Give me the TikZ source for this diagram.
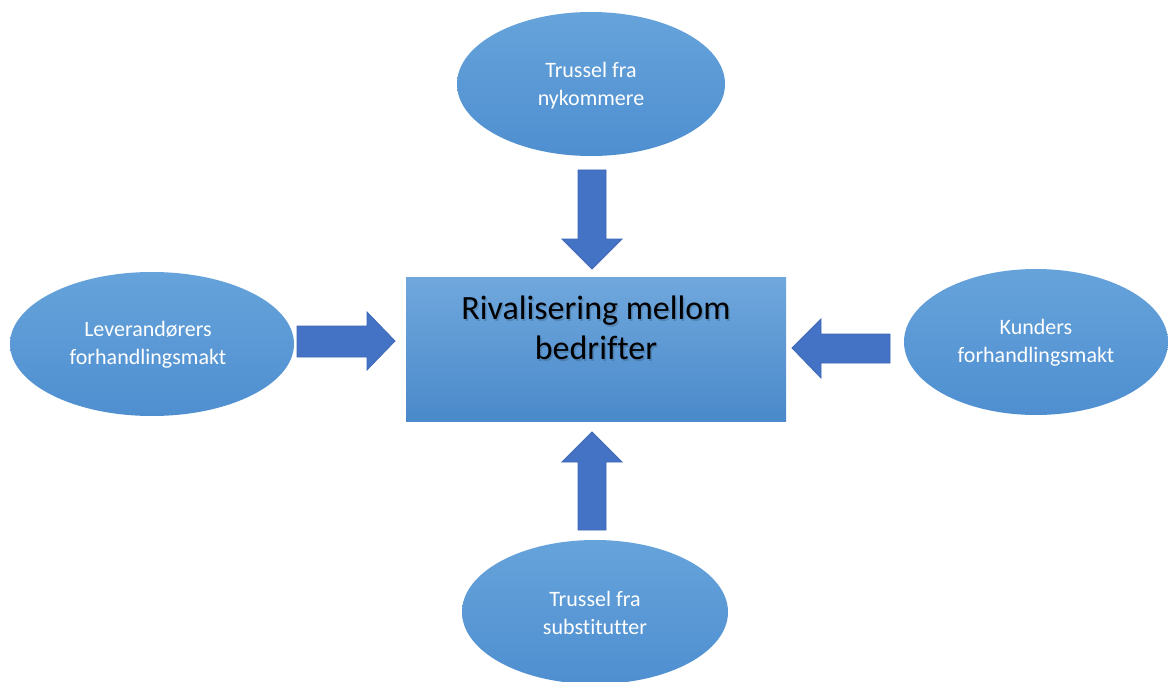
\documentclass[tikz,border=0pt]{standalone}
\usepackage{fontspec}
\setmainfont[Ligatures=NoCommon]{Carlito}
\usetikzlibrary{shapes.geometric}
\definecolor{ellTop}{HTML}{66A3DB}
\definecolor{ellBot}{HTML}{4F8FD0}
\definecolor{recTop}{HTML}{70A8DD}
\definecolor{recBot}{HTML}{4A89CA}
\definecolor{arrFill}{HTML}{4472C4}
\definecolor{arrLine}{HTML}{3D68B6}
\tikzset{
  force/.style={top color=ellTop, bottom color=ellBot},
  forcetext/.style={text=white, font=\fontsize{22}{28}\selectfont, align=center, inner sep=0pt},
  core/.style={top color=recTop, bottom color=recBot},
  coretext/.style={font=\fontsize{34}{40}\selectfont, align=center, text=black, inner sep=0pt},
  blockarrow/.style={fill=arrFill, draw=arrLine, line width=0.8pt, line join=miter}
}
\begin{document}
\begin{tikzpicture}[x=1pt,y=-1pt]
\useasboundingbox (0,0) rectangle (1168,682);
\fill[white] (0,0) rectangle (1168,682);
\begin{scope}
\clip (0,0) rectangle (1168,682);
% central rectangle
\path[core] (406,277) rectangle (786,421);
\node[coretext, text=black, opacity=0.15] at (597.5,329.5) {Rivalisering mellom\\bedrifter};
\node[coretext] (core) at (596,328) {Rivalisering mellom\\bedrifter};
% ellipses
\path[force] (591,84) ellipse [x radius=134, y radius=72];
\node[forcetext] (top) at (591,86) {Trussel fra\\nykommere};
\path[force] (152,344) ellipse [x radius=142, y radius=72];
\node[forcetext] (left) at (148,345) {Leverandørers\\forhandlingsmakt};
\path[force] (1036,342) ellipse [x radius=132, y radius=73];
\node[forcetext] (right) at (1036,343) {Kunders\\forhandlingsmakt};
\path[force] (595,612) ellipse [x radius=133, y radius=72];
\node[forcetext] (bottom) at (595,613) {Trussel fra\\substitutter};
% block arrows
\draw[blockarrow] (578,170) -- (606,170) -- (606,239) -- (622,239) -- (592,269) -- (562,239) -- (578,239) -- cycle;
\draw[blockarrow] (578,530) -- (606,530) -- (606,462) -- (622,462) -- (592,432) -- (562,462) -- (578,462) -- cycle;
\draw[blockarrow] (297,326) -- (367,326) -- (367,312) -- (395,341) -- (367,370) -- (367,357) -- (297,357) -- cycle;
\draw[blockarrow] (890,334) -- (821,334) -- (821,319) -- (792,348) -- (821,378) -- (821,363) -- (890,363) -- cycle;
\end{scope}
\end{tikzpicture}
\end{document}
